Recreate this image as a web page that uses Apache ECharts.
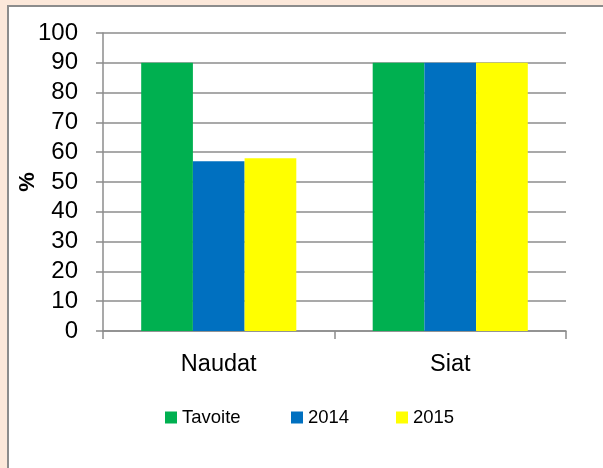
<!DOCTYPE html>
<html>
<head>
<meta charset="utf-8">
<script src="https://cdn.jsdelivr.net/npm/echarts@6/dist/echarts.min.js"></script>
<style>
html,body{margin:0;padding:0;background:#FCE8DA;width:603px;height:468px;overflow:hidden;}
#frame{position:absolute;left:7px;top:5px;width:620px;height:500px;background:#fff;border:2px solid #8C8C8C;box-sizing:border-box;}
#chart{position:absolute;left:0;top:0;width:603px;height:468px;}
</style>
</head>
<body>
<div id="frame"></div>
<div id="chart"></div>
<script>
const categories = ['Naudat', 'Siat'];
const seriesNames = ['Tavoite', '2014', '2015'];
const tavoite = [90, 90];
const v2014 = [57, 90];
const v2015 = [58, 90];
const colors = ['#00B050', '#0070C0', '#FFFF00'];
const yTicks = [0, 100, 10];

const font = 'Liberation Sans, Arial, sans-serif';
const chart = echarts.init(document.getElementById('chart'), null, {renderer: 'canvas'});
const legendLefts = [165, 291, 396];
const option = {
  backgroundColor: 'transparent',
  animation: false,
  grid: {left: 103, right: 37, top: 33, bottom: 137, containLabel: false, outerBoundsMode: 'none'},
  legend: seriesNames.map((n, i) => ({
    data: [n], left: legendLefts[i], top: 408, itemWidth: 12, itemHeight: 12,
    icon: 'rect', itemGap: 0,
    textStyle: {fontFamily: font, fontSize: 18.5, color: '#000', padding: [0, 0, 0, 0]},
    padding: 0
  })),
  xAxis: {
    type: 'category', data: categories,
    axisLine: {lineStyle: {color: '#8C8C8C', width: 1.5}},
    axisTick: {show: true, length: 8, lineStyle: {color: '#8C8C8C', width: 1.5}},
    axisLabel: {fontFamily: font, fontSize: 23.5, color: '#000', margin: 22}
  },
  yAxis: {
    type: 'value', min: yTicks[0], max: yTicks[1], interval: yTicks[2],
    name: '%', nameLocation: 'middle', nameGap: 64, nameRotate: 90, nameMoveOverlap: false,
    nameTextStyle: {fontFamily: font, fontSize: 22, fontWeight: 'bold', color: '#000'},
    axisLine: {show: true, lineStyle: {color: '#8C8C8C', width: 1.5}},
    axisTick: {show: true, length: 7, lineStyle: {color: '#8C8C8C', width: 1.5}},
    axisLabel: {fontFamily: font, fontSize: 24, color: '#000', margin: 25},
    splitLine: {lineStyle: {color: '#8C8C8C', width: 1.5}}
  },
  series: [tavoite, v2014, v2015].map((d, i) => ({
    name: seriesNames[i], type: 'bar', data: d,
    itemStyle: {color: colors[i]},
    barGap: '0%', barCategoryGap: '33%'
  }))
};
chart.setOption(option);
</script>
</body>
</html>
